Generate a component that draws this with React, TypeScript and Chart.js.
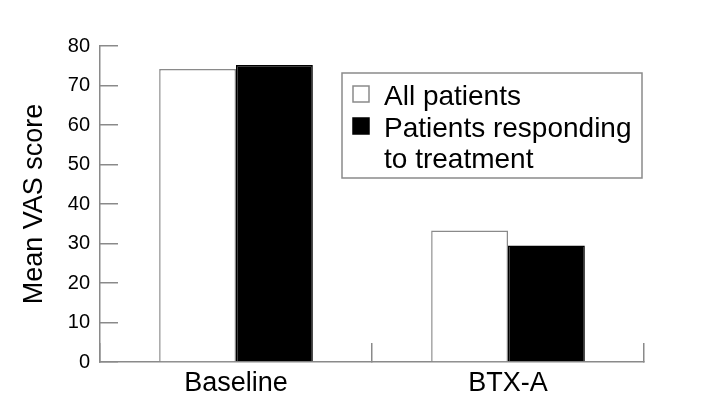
import React, { useEffect, useRef } from "react";
import { Chart, registerables } from "chart.js";

Chart.register(...registerables);

const categories = ["Baseline", "BTX-A"];
const allPatients = [74.2, 33.3];
const responders = [75.2, 29.5];
const seriesLabels = ["All patients", "Patients responding to treatment"];
const legendLines = [["All patients"], ["Patients responding", "to treatment"]];
const yMin = 0;
const yMax = 80;
const yStep = 10;
const yTitle = "Mean VAS score";

const FONT = '"Liberation Sans", Arial, Helvetica, sans-serif';
const AXIS = "#8a8a8a";

const boxLegend = {
  id: "boxLegend",
  afterDraw(chart: any) {
    const ctx = chart.ctx as CanvasRenderingContext2D;
    ctx.save();
    ctx.strokeStyle = AXIS;
    ctx.lineWidth = 1.5;
    ctx.strokeRect(342, 73, 300, 105);
    ctx.font = `28px ${FONT}`;
    ctx.textBaseline = "alphabetic";
    ctx.textAlign = "left";
    const baselines = [[105], [137, 168]];
    chart.data.datasets.forEach((ds: any, i: number) => {
      const lines = legendLines[i];
      const b0 = baselines[i][0];
      ctx.fillStyle = ds.backgroundColor;
      ctx.fillRect(353, b0 - 19, 16, 16);
      ctx.strokeStyle = ds.borderColor;
      ctx.lineWidth = 1.5;
      ctx.strokeRect(353, b0 - 19, 16, 16);
      ctx.fillStyle = "#000";
      lines.forEach((t, j) => {
        ctx.fillText(t, 384, baselines[i][j]);
      });
    });
    ctx.restore();
  },
};

export default function App() {
  const ref = useRef<HTMLCanvasElement>(null);
  useEffect(() => {
    if (!ref.current) return;
    const chart = new Chart(ref.current, {
      type: "bar",
      data: {
        labels: categories,
        datasets: [
          {
            label: seriesLabels[0],
            data: allPatients,
            backgroundColor: "#ffffff",
            borderColor: AXIS,
            borderWidth: 1.5,
            categoryPercentage: 0.565,
            barPercentage: 1,
          },
          {
            label: seriesLabels[1],
            data: responders,
            backgroundColor: "#000000",
            borderColor: "#000000",
            borderWidth: 1.5,
            categoryPercentage: 0.565,
            barPercentage: 1,
          },
        ],
      },
      options: {
        responsive: false,
        animation: false,
        layout: { padding: { left: 0, top: 46, right: 60, bottom: 0 } },
        plugins: {
          legend: { display: false },
          title: { display: false },
          tooltip: { enabled: false },
        },
        scales: {
          x: {
            grid: {
              display: true,
              drawOnChartArea: false,
              drawTicks: true,
              tickLength: -19,
              color: AXIS,
              lineWidth: 1.5,
              offset: true,
            },
            border: { display: true, color: AXIS, width: 1.5 },
            ticks: {
              color: "#000",
              font: { family: FONT, size: 27 },
              padding: 24,
            },
            afterFit: (s: any) => {
              s.height = 53;
            },
          },
          y: {
            min: yMin,
            max: yMax,
            grid: {
              display: true,
              drawOnChartArea: false,
              drawTicks: true,
              tickLength: -18,
              color: AXIS,
              lineWidth: 1.5,
            },
            border: { display: true, color: AXIS, width: 1.5 },
            ticks: {
              stepSize: yStep,
              color: "#000",
              font: { family: FONT, size: 20 },
              padding: 28,
            },
            title: {
              display: true,
              text: yTitle,
              color: "#000",
              font: { family: FONT, size: 27 },
              padding: { top: 18, bottom: 0 },
            },
            afterFit: (s: any) => {
              s.width = 100;
            },
          },
        },
      },
      plugins: [boxLegend],
    });
    return () => chart.destroy();
  }, []);
  return (
    <div style={{ position: "fixed", left: 0, top: 0, width: 704, height: 415, background: "#fff" }}>
      <canvas ref={ref} width={704} height={415} style={{ display: "block" }} />
    </div>
  );
}
